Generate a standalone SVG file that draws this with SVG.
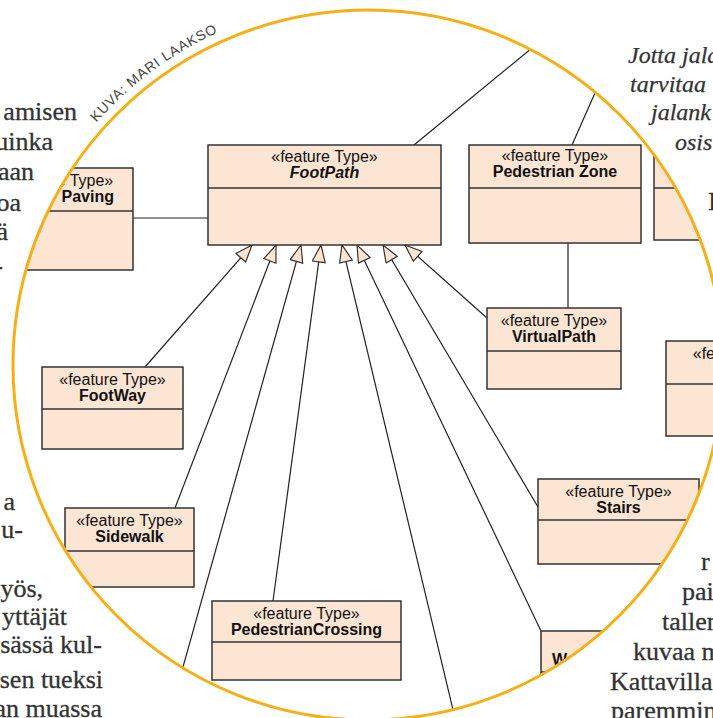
<svg xmlns="http://www.w3.org/2000/svg" width="713" height="718" viewBox="0 0 713 718">
<style>
.pg{font-family:"Liberation Serif","Times New Roman",serif;font-size:26px;fill:#333;stroke:#333;stroke-width:0.3}
.pgi{font-family:"Liberation Serif","Times New Roman",serif;font-size:24px;font-style:italic;fill:#333;stroke:#333;stroke-width:0.25}
.box{fill:#FDE5D3;stroke:#333;stroke-width:1.5}
.div{stroke:#333;stroke-width:1.5}
.st{font-family:"Liberation Sans",Arial,sans-serif;font-size:16px;fill:#111;text-anchor:middle}
.nm{font-family:"Liberation Sans",Arial,sans-serif;font-size:16px;font-weight:bold;fill:#111;text-anchor:middle}
.ln{stroke:#222;stroke-width:1.2;fill:none}
.credit{font-family:"Liberation Sans",Arial,sans-serif;font-size:14px;fill:#444}
</style>
<defs>
<clipPath id="lens"><circle cx="368" cy="365" r="355"/></clipPath>
<marker id="gen" markerUnits="userSpaceOnUse" markerWidth="20" markerHeight="16" viewBox="0 0 20 16" refX="18" refY="7" orient="auto">
<path d="M1,0.5 L18,7 L1,13.5 Z" fill="#FDE5D3" stroke="#333" stroke-width="1.2"/>
</marker>
<path id="arc" d="M96.4,122.5 A365,365 0 0,1 243.2,22"/>
</defs>
<rect width="713" height="718" fill="#fff"/>
<g id="page-text">
<text class="pg" x="77" y="120" text-anchor="end">amisen</text>
<text class="pg" x="53" y="150" text-anchor="end">uinka</text>
<text class="pg" x="34" y="180" text-anchor="end">aan</text>
<text class="pg" x="21" y="211" text-anchor="end">oa</text>
<text class="pg" x="8" y="240" text-anchor="end">ä</text>
<text class="pg" x="3" y="274" text-anchor="end">-</text>
<text class="pg" x="15" y="510" text-anchor="end">a</text>
<text class="pg" x="23" y="538" text-anchor="end">u-</text>
<text class="pg" x="43" y="597" text-anchor="end">nyös,</text>
<text class="pg" x="67" y="625" text-anchor="end">yttäjät</text>
<text class="pg" x="102" y="653" text-anchor="end">sässä kul-</text>
<text class="pg" x="103" y="688" text-anchor="end">sen tueksi</text>
<text class="pg" x="102" y="717" text-anchor="end">an muassa</text>
<text class="pgi" x="628" y="63">Jotta jala</text>
<text class="pgi" x="630" y="92">tarvitaa</text>
<text class="pgi" x="651" y="120">jalank</text>
<text class="pgi" x="675" y="150">osis</text>
<text class="pg" x="708" y="210">I</text>
<text class="pg" x="701" y="570">r</text>
<text class="pg" x="682" y="600">pai</text>
<text class="pg" x="662" y="630">tallen</text>
<text class="pg" x="633" y="660">kuvaa m</text>
<text class="pg" x="610" y="690">Kattavilla</text>
<text class="pg" x="611" y="719">paremmin</text>
</g>
<circle cx="368" cy="365" r="355" fill="#fff"/>
<g clip-path="url(#lens)">
<g id="connectors">
<line class="ln" x1="133" y1="218" x2="208" y2="218"/>
<line class="ln" x1="414" y1="145" x2="560" y2="25"/>
<line class="ln" x1="572" y1="145" x2="606" y2="68"/>
<line class="ln" x1="568" y1="243" x2="568" y2="308"/>
<line class="ln" x1="145" y1="367" x2="252" y2="245" marker-end="url(#gen)"/>
<line class="ln" x1="175" y1="508" x2="276" y2="245" marker-end="url(#gen)"/>
<line class="ln" x1="157" y1="760" x2="301" y2="245" marker-end="url(#gen)"/>
<line class="ln" x1="273" y1="601" x2="321" y2="245" marker-end="url(#gen)"/>
<line class="ln" x1="465" y1="760" x2="342" y2="245" marker-end="url(#gen)"/>
<line class="ln" x1="541" y1="631" x2="357" y2="245" marker-end="url(#gen)"/>
<line class="ln" x1="538" y1="507" x2="383" y2="245" marker-end="url(#gen)"/>
<line class="ln" x1="487" y1="318" x2="405" y2="245" marker-end="url(#gen)"/>
</g>
<g id="FootPath">
<rect class="box" x="208" y="145" width="233" height="100"/>
<line class="div" x1="208" y1="188" x2="441" y2="188"/>
<text class="st" x="324.5" y="162">«feature Type»</text>
<text class="nm" x="324.5" y="178" font-style="italic">FootPath</text>
</g>
<g id="PedestrianZone">
<rect class="box" x="469" y="145" width="172" height="98"/>
<line class="div" x1="469" y1="188" x2="641" y2="188"/>
<text class="st" x="555" y="161">«feature Type»</text>
<text class="nm" x="555" y="177">Pedestrian Zone</text>
</g>
<g id="RightBox">
<rect class="box" x="654" y="145" width="200" height="95"/>
<line class="div" x1="654" y1="188" x2="854" y2="188"/>
</g>
<g id="Paving">
<rect class="box" x="-13" y="168" width="146" height="102"/>
<line class="div" x1="-13" y1="211" x2="133" y2="211"/>
<text class="st" x="60" y="186">«feature Type»</text>
<text class="nm" x="114" y="202" style="text-anchor:end">Paving</text>
</g>
<g id="VirtualPath">
<rect class="box" x="487" y="308" width="134" height="81"/>
<line class="div" x1="487" y1="351" x2="621" y2="351"/>
<text class="st" x="554" y="326">«feature Type»</text>
<text class="nm" x="554" y="342">VirtualPath</text>
</g>
<g id="FeBox">
<rect class="box" x="666" y="341" width="160" height="95"/>
<line class="div" x1="666" y1="384" x2="826" y2="384"/>
<text class="st" x="746" y="359">«feature Type»</text>
</g>
<g id="FootWay">
<rect class="box" x="42" y="367" width="141" height="82"/>
<line class="div" x1="42" y1="409" x2="183" y2="409"/>
<text class="st" x="112.5" y="385">«feature Type»</text>
<text class="nm" x="112.5" y="401">FootWay</text>
</g>
<g id="Stairs">
<rect class="box" x="538" y="479" width="161" height="85"/>
<line class="div" x1="538" y1="520" x2="699" y2="520"/>
<text class="st" x="618.5" y="497">«feature Type»</text>
<text class="nm" x="618.5" y="513">Stairs</text>
</g>
<g id="Sidewalk">
<rect class="box" x="65" y="508" width="129" height="79"/>
<line class="div" x1="65" y1="551" x2="194" y2="551"/>
<text class="st" x="129.5" y="526">«feature Type»</text>
<text class="nm" x="129.5" y="542">Sidewalk</text>
</g>
<g id="PedestrianCrossing">
<rect class="box" x="212" y="601" width="189" height="79"/>
<line class="div" x1="212" y1="642" x2="401" y2="642"/>
<text class="st" x="306.5" y="619">«feature Type»</text>
<text class="nm" x="306.5" y="635">PedestrianCrossing</text>
</g>
<g id="WaBox">
<rect class="box" x="541" y="631" width="200" height="90"/>
<line class="div" x1="541" y1="672" x2="741" y2="672"/>
<text class="nm" x="552" y="665" style="text-anchor:start">Wa</text>
</g>
</g>
<circle cx="368" cy="365" r="355" fill="none" stroke="#F5AF19" stroke-width="3"/>
<text class="credit"><textPath href="#arc" textLength="152" lengthAdjust="spacing">KUVA: MARI LAAKSO</textPath></text>
</svg>
